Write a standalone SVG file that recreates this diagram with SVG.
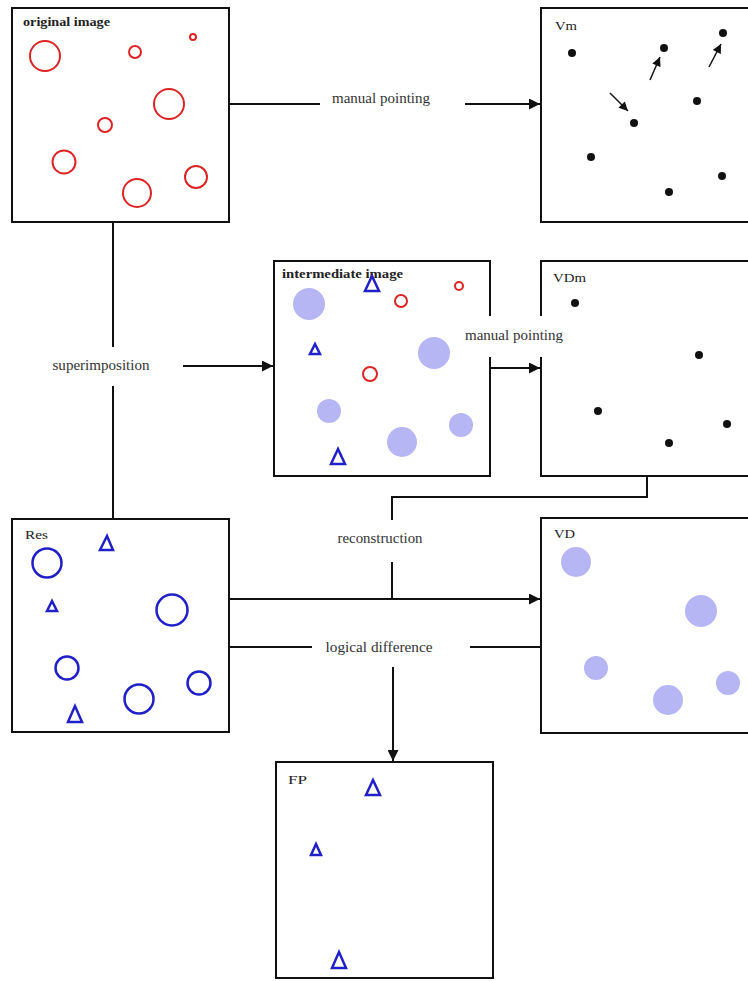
<svg xmlns="http://www.w3.org/2000/svg" width="748" height="981" viewBox="0 0 748 981">
<defs>
<style>
.box{fill:#fff;stroke:#111;stroke-width:2}
.lbl{font-family:"Liberation Serif",serif;font-size:14.5px;fill:#333}
.ttl{font-family:"Liberation Serif",serif;font-size:13.5px;fill:#222}
.b{font-weight:bold}
.rc{fill:none;stroke:#dd2424;stroke-width:2}
.bc{fill:none;stroke:#2020c8;stroke-width:2.5}
.bt{fill:none;stroke:#2020c8;stroke-width:2.5;stroke-linejoin:miter}
.lav{fill:#b6b6f4}
.dot{fill:#111}
.ln{fill:none;stroke:#111;stroke-width:2}
.sa{fill:none;stroke:#111;stroke-width:1.5}
</style>
<marker id="ah" viewBox="0 0 10 10" refX="10" refY="5" markerWidth="12" markerHeight="11" markerUnits="userSpaceOnUse" orient="auto"><path d="M0,0 L10,5 L0,10 z" fill="#111"/></marker>
<marker id="sh" viewBox="0 0 10 10" refX="10" refY="5" markerWidth="10" markerHeight="9" markerUnits="userSpaceOnUse" orient="auto"><path d="M0,0 L10,5 L0,10 z" fill="#111"/></marker>
</defs>
<rect width="748" height="981" fill="#fff"/>

<g id="original">
<rect class="box" x="12" y="8" width="217" height="214"/>
<text class="ttl b" x="23" y="26" textLength="87" lengthAdjust="spacingAndGlyphs">original image</text>
<circle class="rc" cx="45" cy="56" r="15"/>
<circle class="rc" cx="135" cy="52" r="6"/>
<circle class="rc" cx="193" cy="37" r="3"/>
<circle class="rc" cx="169" cy="104" r="15"/>
<circle class="rc" cx="105" cy="125" r="7"/>
<circle class="rc" cx="64" cy="162" r="11.5"/>
<circle class="rc" cx="137" cy="193" r="14"/>
<circle class="rc" cx="196" cy="177" r="11"/>
</g>

<g id="vm">
<rect class="box" x="541" y="8" width="220" height="214"/>
<text class="ttl" x="555" y="30" textLength="22" lengthAdjust="spacingAndGlyphs">Vm</text>
<circle class="dot" cx="572" cy="53" r="4"/>
<circle class="dot" cx="664" cy="48" r="4"/>
<circle class="dot" cx="723" cy="33" r="4"/>
<circle class="dot" cx="697" cy="101" r="4"/>
<circle class="dot" cx="634" cy="123" r="4"/>
<circle class="dot" cx="591" cy="157" r="4"/>
<circle class="dot" cx="669" cy="192" r="4"/>
<circle class="dot" cx="722" cy="176" r="4"/>
<line class="sa" x1="650" y1="80" x2="660" y2="57" marker-end="url(#sh)"/>
<line class="sa" x1="709" y1="67" x2="721" y2="44" marker-end="url(#sh)"/>
<line class="sa" x1="610" y1="93" x2="628" y2="111" marker-end="url(#sh)"/>
</g>

<g id="intermediate">
<rect class="box" x="274" y="261" width="216" height="215"/>
<circle class="lav" cx="309" cy="304" r="16"/>
<circle class="lav" cx="434" cy="353" r="16"/>
<circle class="lav" cx="329" cy="411" r="12"/>
<circle class="lav" cx="402" cy="442" r="15"/>
<circle class="lav" cx="461" cy="425" r="12"/>
<text class="ttl b" x="282" y="278" textLength="121" lengthAdjust="spacingAndGlyphs">intermediate image</text>
<circle class="rc" cx="401" cy="301" r="6"/>
<circle class="rc" cx="459" cy="286" r="4"/>
<circle class="rc" cx="370" cy="374" r="7"/>
<polygon class="bt" points="372,276 365,291 379,291"/>
<polygon class="bt" points="315,344 310,354 320,354"/>
<polygon class="bt" points="338,449 331,464 345,464"/>
</g>

<g id="vdm">
<rect class="box" x="541" y="261" width="220" height="215"/>
<text class="ttl" x="553" y="282" textLength="33" lengthAdjust="spacingAndGlyphs">VDm</text>
<circle class="dot" cx="575" cy="303" r="4"/>
<circle class="dot" cx="699" cy="355" r="4"/>
<circle class="dot" cx="598" cy="411" r="4"/>
<circle class="dot" cx="669" cy="443" r="4"/>
<circle class="dot" cx="727" cy="424" r="4"/>
</g>

<g id="res">
<rect class="box" x="12" y="519" width="217" height="213"/>
<text class="ttl" x="25" y="539" textLength="23" lengthAdjust="spacingAndGlyphs">Res</text>
<circle class="bc" cx="47" cy="563" r="14.5"/>
<circle class="bc" cx="172" cy="610" r="15.5"/>
<circle class="bc" cx="67" cy="668" r="11.5"/>
<circle class="bc" cx="139" cy="699" r="14.5"/>
<circle class="bc" cx="199" cy="683" r="11.5"/>
<polygon class="bt" points="107,536 100,550 113,550"/>
<polygon class="bt" points="52,601 47,611 57,611"/>
<polygon class="bt" points="75,706 68,722 82,722"/>
</g>

<g id="vd">
<rect class="box" x="541" y="518" width="220" height="215"/>
<circle class="lav" cx="576" cy="562" r="15"/>
<circle class="lav" cx="701" cy="611" r="16"/>
<circle class="lav" cx="596" cy="668" r="12"/>
<circle class="lav" cx="668" cy="700" r="15"/>
<circle class="lav" cx="728" cy="683" r="12"/>
<text class="ttl" x="554" y="538" textLength="21" lengthAdjust="spacingAndGlyphs">VD</text>
</g>

<g id="fp">
<rect class="box" x="276" y="762" width="217" height="216"/>
<text class="ttl" x="288" y="784" textLength="19" lengthAdjust="spacingAndGlyphs">FP</text>
<polygon class="bt" points="373,780 366,795 380,795"/>
<polygon class="bt" points="316,844 311,855 321,855"/>
<polygon class="bt" points="339,952 332,968 346,968"/>
</g>

<g id="connectors">
<line class="ln" x1="229" y1="104" x2="320" y2="104"/>
<line class="ln" x1="465" y1="104" x2="540" y2="104" marker-end="url(#ah)"/>
<text class="lbl" x="381" y="103" text-anchor="middle" textLength="98" lengthAdjust="spacingAndGlyphs">manual pointing</text>

<line class="ln" x1="113" y1="222" x2="113" y2="347"/>
<line class="ln" x1="113" y1="386" x2="113" y2="519"/>
<line class="ln" x1="183" y1="366" x2="273" y2="366" marker-end="url(#ah)"/>
<text class="lbl" x="101" y="370" text-anchor="middle" textLength="97" lengthAdjust="spacingAndGlyphs">superimposition</text>

<line class="ln" x1="490" y1="368" x2="540" y2="368" marker-end="url(#ah)"/>
<rect x="463" y="316" width="102" height="41" fill="#fff"/>
<text class="lbl" x="514" y="340" text-anchor="middle" textLength="98" lengthAdjust="spacingAndGlyphs">manual pointing</text>

<polyline class="ln" points="647,476 647,497 392,497 392,520"/>
<line class="ln" x1="392" y1="562" x2="392" y2="599"/>
<text class="lbl" x="380" y="543" text-anchor="middle" textLength="85" lengthAdjust="spacingAndGlyphs">reconstruction</text>

<line class="ln" x1="229" y1="599" x2="540" y2="599" marker-end="url(#ah)"/>

<line class="ln" x1="229" y1="647" x2="312" y2="647"/>
<line class="ln" x1="470" y1="647" x2="541" y2="647"/>
<text class="lbl" x="379" y="652" text-anchor="middle" textLength="107" lengthAdjust="spacingAndGlyphs">logical difference</text>
<line class="ln" x1="393" y1="667" x2="393" y2="761" marker-end="url(#ah)"/>
</g>
</svg>
